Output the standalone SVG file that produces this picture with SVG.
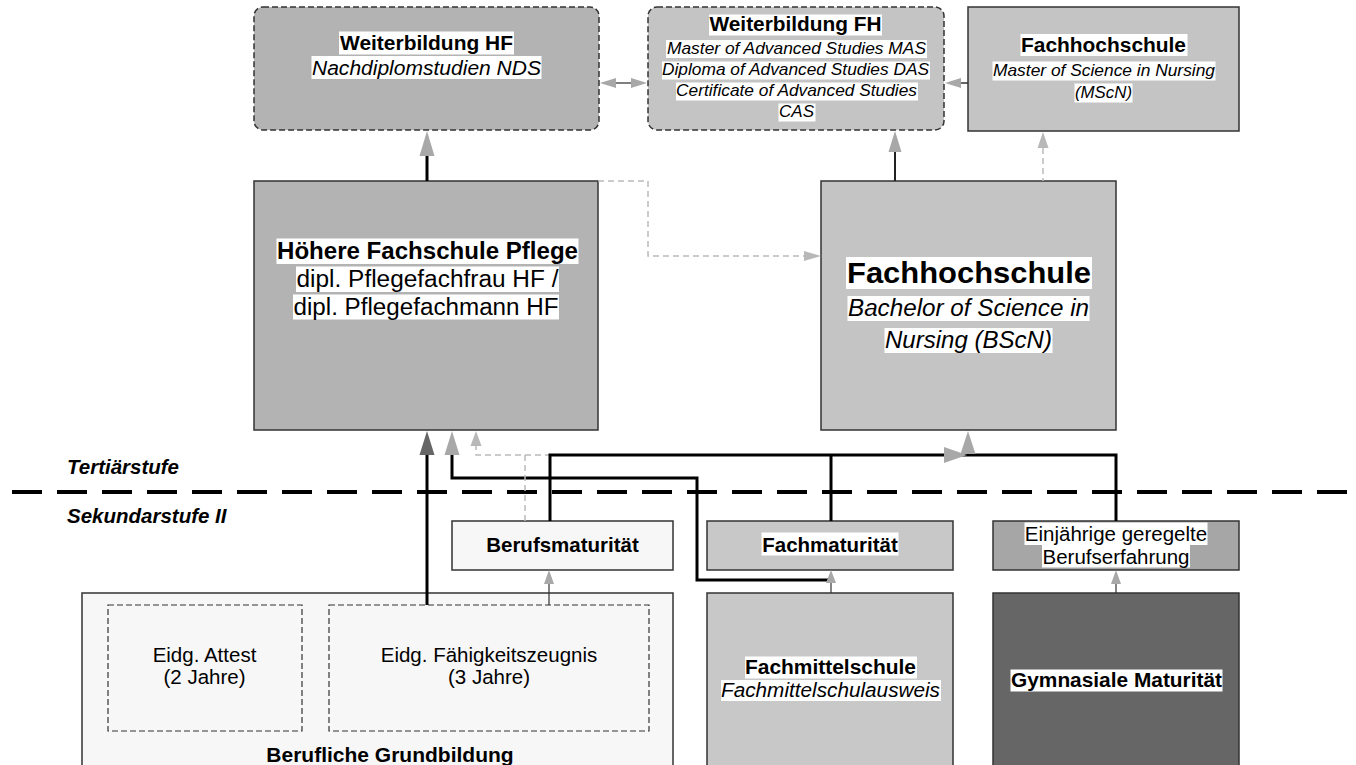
<svg xmlns="http://www.w3.org/2000/svg" width="1356" height="765" viewBox="0 0 1356 765">
<style>
text{font-family:"Liberation Sans",Arial,Helvetica,sans-serif;fill:#000}
.c{text-anchor:middle}
.b{font-weight:bold}
.i{font-style:italic}
.hl{fill:#fff}
.box{stroke:#333;stroke-width:1.5}
.dbox{stroke:#333;stroke-width:1.5;stroke-dasharray:6 3}
.inner{fill:none;stroke:#333;stroke-width:1.2;stroke-dasharray:6 3}
.thick{fill:none;stroke:#000;stroke-width:3}
.thin{fill:none;stroke:#333;stroke-width:1.2}
.dash{fill:none;stroke:#bbb;stroke-width:1.5;stroke-dasharray:6 4}
.ah{fill:#a8a8a8}
.ahl{fill:#b8b8b8}
.ahd{fill:#666}
</style>
<rect width="1356" height="765" fill="#fff"/>

<g id="weiterbildung-hf">
<rect class="dbox" x="254" y="7" width="345" height="123" rx="9" fill="#b3b3b3"/>
<rect class="hl" x="339" y="31.5" width="175" height="23"/>
<rect class="hl" x="311.5" y="56" width="230" height="23"/>
<text class="c b" x="426.5" y="50" font-size="20" textLength="173" lengthAdjust="spacingAndGlyphs">Weiterbildung HF</text>
<text class="c i" x="426.5" y="74.5" font-size="20" textLength="229" lengthAdjust="spacingAndGlyphs">Nachdiplomstudien NDS</text>
</g>

<g id="weiterbildung-fh">
<rect class="dbox" x="648" y="7" width="296" height="123" rx="9" fill="#c4c4c4"/>
<rect class="hl" x="709" y="14.5" width="173" height="21"/>
<rect class="hl" x="666" y="40" width="261" height="18"/>
<rect class="hl" x="662" y="61.5" width="268" height="18"/>
<rect class="hl" x="676" y="82.5" width="242" height="18"/>
<rect class="hl" x="778.5" y="103.5" width="37" height="18"/>
<text class="c b" x="795.5" y="31" font-size="19.5" textLength="172" lengthAdjust="spacingAndGlyphs">Weiterbildung FH</text>
<text class="c i" x="796.5" y="53.5" font-size="16.5" textLength="259" lengthAdjust="spacingAndGlyphs">Master of Advanced Studies MAS</text>
<text class="c i" x="795.5" y="75" font-size="16.5" textLength="267" lengthAdjust="spacingAndGlyphs">Diploma of Advanced Studies DAS</text>
<text class="c i" x="796.5" y="96" font-size="16.5" textLength="241" lengthAdjust="spacingAndGlyphs">Certificate of Advanced Studies</text>
<text class="c i" x="796.5" y="117" font-size="16.5" textLength="35" lengthAdjust="spacingAndGlyphs">CAS</text>
</g>

<g id="fachhochschule-mscn">
<rect class="box" x="968" y="7" width="271" height="124" fill="#c4c4c4"/>
<rect class="hl" x="1020.5" y="34" width="167" height="22"/>
<rect class="hl" x="992.5" y="61.5" width="223" height="19"/>
<rect class="hl" x="1074.5" y="83.5" width="58" height="19"/>
<text class="c b" x="1103.5" y="52" font-size="20" textLength="165" lengthAdjust="spacingAndGlyphs">Fachhochschule</text>
<text class="c i" x="1104" y="75.5" font-size="17" textLength="222" lengthAdjust="spacingAndGlyphs">Master of Science in Nursing</text>
<text class="c i" x="1103.5" y="97.5" font-size="17" textLength="57" lengthAdjust="spacingAndGlyphs">(MScN)</text>
</g>

<g id="hoehere-fachschule">
<rect class="box" x="254" y="181" width="344" height="249" fill="#b3b3b3"/>
<rect class="hl" x="276.5" y="238.5" width="302" height="25.5"/>
<rect class="hl" x="296" y="266.5" width="263" height="25.5"/>
<rect class="hl" x="293" y="294.5" width="266" height="25"/>
<text class="c b" x="427.5" y="259" font-size="23" textLength="301" lengthAdjust="spacingAndGlyphs">Höhere Fachschule Pflege</text>
<text class="c" x="427.5" y="287" font-size="23" textLength="262" lengthAdjust="spacingAndGlyphs">dipl. Pflegefachfrau HF /</text>
<text class="c" x="426" y="315" font-size="23" textLength="265" lengthAdjust="spacingAndGlyphs">dipl. Pflegefachmann HF</text>
</g>

<g id="fachhochschule-bscn">
<rect class="box" x="821" y="181" width="295" height="249" fill="#c4c4c4"/>
<rect class="hl" x="846" y="257" width="246" height="32"/>
<rect class="hl" x="847.5" y="296" width="242" height="25"/>
<rect class="hl" x="884.5" y="328" width="168" height="25"/>
<text class="c b" x="969" y="283" font-size="29" textLength="244" lengthAdjust="spacingAndGlyphs">Fachhochschule</text>
<text class="c i" x="968.5" y="316" font-size="23" textLength="241" lengthAdjust="spacingAndGlyphs">Bachelor of Science in</text>
<text class="c i" x="968.5" y="348" font-size="23" textLength="167" lengthAdjust="spacingAndGlyphs">Nursing (BScN)</text>
</g>

<g id="berufsmaturitaet">
<rect class="box" x="452" y="521" width="221" height="49" fill="#f7f7f7"/>
<text class="c b" x="562.5" y="551.5" font-size="20.5">Berufsmaturität</text>
</g>

<g id="fachmaturitaet">
<rect class="box" x="707" y="521" width="246" height="49" fill="#c8c8c8"/>
<rect class="hl" x="761.5" y="532.5" width="137" height="23"/>
<text class="c b" x="830" y="551.5" font-size="20.5">Fachmaturität</text>
</g>

<g id="berufserfahrung">
<rect class="box" x="993" y="521" width="246" height="49" fill="#a6a6a6"/>
<rect class="hl" x="1024.5" y="522.5" width="183" height="22.5"/>
<rect class="hl" x="1042" y="545" width="148" height="22.5"/>
<text class="c" x="1116" y="541" font-size="20.5">Einjährige geregelte</text>
<text class="c" x="1116" y="564" font-size="20.5">Berufserfahrung</text>
</g>

<g id="berufliche-grundbildung">
<rect class="box" x="82" y="593" width="591" height="200" fill="#f7f7f7"/>
<text class="c b" x="390" y="762" font-size="21">Berufliche Grundbildung</text>
</g>

<g id="eidg-attest">
<rect class="inner" x="108" y="605" width="194" height="126"/>
<text class="c" x="204.5" y="662" font-size="20.5">Eidg. Attest</text>
<text class="c" x="204.5" y="684" font-size="20.5">(2 Jahre)</text>
</g>

<g id="eidg-faehigkeitszeugnis">
<rect class="inner" x="329" y="605" width="320" height="126"/>
<text class="c" x="489" y="662" font-size="20.5">Eidg. Fähigkeitszeugnis</text>
<text class="c" x="489" y="684" font-size="20.5">(3 Jahre)</text>
</g>

<g id="fachmittelschule">
<rect class="box" x="707" y="593" width="246" height="200" fill="#c8c8c8"/>
<rect class="hl" x="745" y="656.5" width="172" height="22"/>
<rect class="hl" x="721" y="680" width="220" height="21"/>
<text class="c b" x="830.5" y="674" font-size="20" textLength="171" lengthAdjust="spacingAndGlyphs">Fachmittelschule</text>
<text class="c i" x="830.5" y="697" font-size="20" textLength="219" lengthAdjust="spacingAndGlyphs">Fachmittelschulausweis</text>
</g>

<g id="gymnasiale-maturitaet">
<rect class="box" x="993" y="593" width="246" height="200" fill="#666"/>
<rect class="hl" x="1010.5" y="669.5" width="212" height="22"/>
<text class="c b" x="1116.5" y="687" font-size="20" textLength="211" lengthAdjust="spacingAndGlyphs">Gymnasiale Maturität</text>
</g>

<g id="stufen">
<line x1="12" y1="492" x2="1352" y2="492" stroke="#000" stroke-width="4" stroke-dasharray="30 15"/>
<text class="b i" x="67" y="473.5" font-size="20.5">Tertiärstufe</text>
<text class="b i" x="67" y="523" font-size="20.5">Sekundarstufe II</text>
</g>

<g id="connectors">
<line class="thick" x1="427" y1="155" x2="427" y2="181"/>
<polygon class="ah" points="427,131 419.5,156 434.5,156"/>
<line x1="615" y1="83" x2="633" y2="83" stroke="#555" stroke-width="1.5"/>
<polygon class="ah" points="600,83 616,78 616,88"/>
<polygon class="ah" points="647,83 631,78 631,88"/>
<line x1="895" y1="151" x2="895" y2="181" stroke="#222" stroke-width="2"/>
<polygon class="ah" points="895,131 888.5,152 901.5,152"/>
<line x1="960" y1="83" x2="968" y2="83" stroke="#333" stroke-width="1.5"/>
<polygon class="ah" points="945,83 961,78 961,88"/>
<line class="dash" x1="1043" y1="148" x2="1043" y2="181"/>
<polygon class="ahl" points="1043,132 1037.5,148 1048.5,148"/>
<path class="dash" d="M598,181 H648 V256 H805"/>
<polygon class="ahl" points="821,256 804,251 804,261"/>
<line class="thick" x1="427" y1="454" x2="427" y2="605"/>
<polygon class="ahd" points="427,431 419.5,455 434.5,455"/>
<path class="thick" d="M832,580 H697 V478 H452 V454"/>
<polygon class="ah" points="452,431 444.5,455 459.5,455"/>
<path class="dash" d="M525,521 V455 H476 V446 M525,455 H550"/>
<polygon class="ahl" points="476,431 470.5,446 481.5,446"/>
<path class="thick" d="M550,521 V455 H1116 V521"/>
<line class="thick" x1="831" y1="455" x2="831" y2="521"/>
<polygon class="ah" points="968,431 960.5,454 975.5,454"/>
<polygon class="ah" points="967,455 944,447 944,463"/>
<line class="thin" x1="831" y1="582" x2="831" y2="593"/>
<polygon class="ah" points="831,570 826,583 836,583"/>
<line class="thin" x1="1116" y1="582" x2="1116" y2="593"/>
<polygon class="ah" points="1116,570 1111,584 1121,584"/>
<line class="thin" x1="549" y1="582" x2="549" y2="605"/>
<polygon class="ah" points="549,570 544,584 554,584"/>
</g>
</svg>
